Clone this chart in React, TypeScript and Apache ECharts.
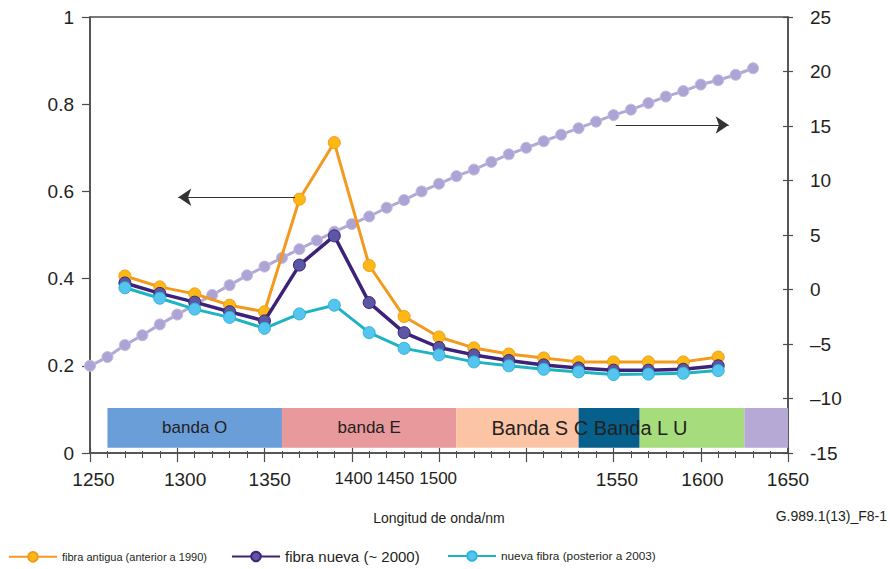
import React, { useEffect, useRef } from "react";
import * as echarts from "echarts";

// ---- data ----
const lossNm = [1270, 1290, 1310, 1330, 1350, 1370, 1390, 1410, 1430, 1450, 1470, 1490, 1510, 1530, 1550, 1570, 1590, 1610];
const oldFiber = [0.406, 0.381, 0.365, 0.339, 0.324, 0.582, 0.712, 0.430, 0.313, 0.266, 0.241, 0.227, 0.218, 0.209, 0.209, 0.209, 0.209, 0.220];
const newFiber = [0.390, 0.366, 0.346, 0.324, 0.303, 0.431, 0.498, 0.345, 0.276, 0.242, 0.225, 0.212, 0.202, 0.195, 0.190, 0.190, 0.192, 0.200];
const newestFiber = [0.379, 0.355, 0.330, 0.311, 0.286, 0.319, 0.339, 0.276, 0.240, 0.225, 0.209, 0.200, 0.192, 0.186, 0.180, 0.181, 0.183, 0.189];

const dispNm = [1250, 1260, 1270, 1280, 1290, 1300, 1310, 1320, 1330, 1340, 1350, 1360, 1370, 1380, 1390, 1400, 1410, 1420, 1430, 1440, 1450, 1460, 1470, 1480, 1490, 1500, 1510, 1520, 1530, 1540, 1550, 1560, 1570, 1580, 1590, 1600, 1610, 1620, 1630];
const dispersion = [-7.0, -6.2, -5.1, -4.2, -3.2, -2.3, -1.4, -0.5, 0.4, 1.3, 2.1, 2.9, 3.7, 4.5, 5.3, 6.0, 6.7, 7.5, 8.2, 9.0, 9.7, 10.4, 11.0, 11.7, 12.4, 13.0, 13.6, 14.2, 14.8, 15.4, 16.0, 16.5, 17.1, 17.7, 18.2, 18.8, 19.2, 19.7, 20.3];

const bandNames = ["banda O", "banda E", "", "", "", ""];
const bandStart = [1260, 1360, 1460, 1530, 1565, 1625];
const bandEnd = [1360, 1460, 1530, 1565, 1625, 1650];
const bandColors = ["#6A9ED8", "#E8999C", "#FBC5A5", "#075F8B", "#A6DC7B", "#B6A9D6"];
const bandLow = 0.012;
const bandHigh = 0.103;
const bandOverlayText = "Banda S C Banda L U";

const xLabelPos = [1252, 1304.5, 1353, 1401, 1425, 1449.5, 1552, 1601, 1650];
const xLabelText = ["1250", "1300", "1350", "1400", "1450", "1500", "1550", "1600", "1650"];
const xLabelSmall = [false, false, false, true, true, true, false, false, false];

const seriesNames = ["fibra antigua (anterior a 1990)", "fibra nueva (~ 2000)", "nueva fibra (posterior a 2003)"];

const FONT = '"Liberation Sans", Arial, sans-serif';
const TXT = "#231F20";
const AX = "#4D4D4D";

export default function App() {
  const ref = useRef<HTMLDivElement>(null);
  useEffect(() => {
    const chart = echarts.init(ref.current!, null, { renderer: "svg" });
    const xLabelMap: Record<string, string> = {};
    xLabelPos.forEach((p, i) => {
      xLabelMap[String(p)] = xLabelSmall[i] ? `{s|${xLabelText[i]}}` : xLabelText[i];
    });

    const bandAreas: any[] = bandStart.map((s, i) => [
      {
        coord: [s, bandHigh],
        itemStyle: { color: bandColors[i], opacity: 1 },
        label: { show: !!bandNames[i], position: "inside", color: TXT, fontSize: 17, fontFamily: FONT },
        name: bandNames[i],
      },
      { coord: [bandEnd[i], bandLow] },
    ]);
    bandAreas.push([
      {
        coord: [bandStart[2], bandHigh],
        itemStyle: { color: "rgba(0,0,0,0)" },
        label: { show: true, position: "insideLeft", offset: [30, 0], color: TXT, fontSize: 20, fontFamily: FONT },
        name: bandOverlayText,
      },
      { coord: [bandEnd[5], bandLow] },
    ]);

    const option: any = {
      animation: false,
      backgroundColor: "#fff",
      textStyle: { fontFamily: FONT, color: TXT },
      grid: {
        left: 90, right: 102, top: 17, bottom: 116,
        show: true, borderColor: AX, borderWidth: 1.5, backgroundColor: "transparent",
        outerBoundsMode: "none",
      },
      legend: [0, 1, 2].map((i) => ({
        data: [seriesNames[i]],
        left: [8, 231, 447][i],
        top: [551, 549, 550][i],
        padding: 0,
        itemWidth: 48,
        itemHeight: 12,
        textStyle: { fontSize: [11, 15, 11.8][i], color: TXT, fontFamily: FONT },
      })),
      xAxis: [
        {
          type: "value", position: "bottom", min: 1250, max: 1650, interval: 50,
          axisLine: { show: true, onZero: false, lineStyle: { color: AX, width: 1.5 } },
          axisTick: { show: true, length: 9, lineStyle: { color: AX, width: 1.2 } },
          minorTick: { show: true, splitNumber: 5, length: 5, lineStyle: { color: AX, width: 1 } },
          axisLabel: { show: false },
          splitLine: { show: false },
          minorSplitLine: { show: false },
        },
        {
          type: "value", position: "bottom", offset: 0, min: 1250, max: 1650, interval: 50,
          axisLine: { show: false, onZero: false },
          axisTick: { show: true, inside: true, length: 5, lineStyle: { color: AX, width: 1.2 } },
          minorTick: { show: true, splitNumber: 5, length: 2, lineStyle: { color: AX, width: 1 } },
          axisLabel: { show: false },
          splitLine: { show: false },
        },
        {
          type: "value", position: "bottom", offset: 0, min: 1250, max: 1650,
          axisLine: { show: false, onZero: false },
          axisTick: { show: false },
          splitLine: { show: false },
          axisLabel: {
            show: true, customValues: xLabelPos, margin: 17, fontSize: 19, color: TXT, fontFamily: FONT,
            formatter: (v: number) => xLabelMap[String(v)] ?? String(v),
            rich: { s: { fontSize: 17, color: TXT, fontFamily: FONT } },
          },
          name: "Longitud de onda/nm",
          nameLocation: "middle",
          nameGap: 58,
          nameTextStyle: { fontSize: 14, color: TXT, fontFamily: FONT },
        },
      ],
      yAxis: [
        {
          type: "value", position: "left", min: 0, max: 1, interval: 0.2,
          axisLine: { show: true, onZero: false, lineStyle: { color: AX, width: 1.5 } },
          axisTick: { show: true, length: 8, lineStyle: { color: AX, width: 1.2 } },
          axisLabel: { fontSize: 19, color: TXT, margin: 16, fontFamily: FONT },
          splitLine: { show: false },
        },
        {
          type: "value", position: "right", offset: 0, min: -15, max: 25, interval: 5,
          axisLine: { show: true, onZero: false, lineStyle: { color: AX, width: 1.5 } },
          axisTick: { show: true, length: 5, lineStyle: { color: AX, width: 1.2 } },
          axisLabel: {
            fontSize: 19, color: TXT, margin: 22, fontFamily: FONT,
            formatter: (v: number) => (v === -15 ? "-15" : v < 0 ? "\u2013" + Math.abs(v) : String(v)),
          },
          splitLine: { show: false },
        },
        {
          type: "value", position: "right", offset: 0, min: -15, max: 25, interval: 5,
          axisLine: { show: false, onZero: false },
          axisTick: { show: true, inside: true, length: 5, lineStyle: { color: AX, width: 1.2 } },
          axisLabel: { show: false },
          splitLine: { show: false },
        },
      ],
      graphic: [
        {
          type: "text", right: 3, top: 509,
          style: { text: "G.989.1(13)_F8-1", fontSize: 14, fill: TXT, fontFamily: FONT },
        },
      ],
      series: [
        {
          name: "dispersion",
          type: "line",
          xAxisIndex: 0,
          yAxisIndex: 1,
          data: dispNm.map((x, i) => [x, dispersion[i]]),
          symbol: "circle",
          symbolSize: 11,
          lineStyle: { color: "#B2A8D8", width: 3 },
          itemStyle: { color: "#ADA3D5", borderColor: "#C3BBE2", borderWidth: 1 },
          silent: true,
          z: 2,
          markLine: {
            silent: true,
            symbol: ["none", "arrow"],
            symbolSize: 13,
            label: { show: false },
            lineStyle: { color: "#333", width: 1.2, type: "solid" },
            data: [[{ coord: [1551.3, 15.09] }, { coord: [1616, 15.09] }]],
          },
        },
        {
          name: seriesNames[0],
          type: "line",
          xAxisIndex: 0,
          yAxisIndex: 0,
          data: lossNm.map((x, i) => [x, oldFiber[i]]),
          symbol: "circle",
          symbolSize: 12,
          lineStyle: { color: "#F39A1E", width: 3 },
          itemStyle: { color: "#FDB913", borderColor: "#F39A1E", borderWidth: 1 },
          silent: true,
          z: 3,
          markArea: { silent: true, data: bandAreas },
          markLine: {
            silent: true,
            symbol: ["none", "arrow"],
            symbolSize: 13,
            label: { show: false },
            lineStyle: { color: "#333", width: 1.2, type: "solid" },
            data: [[{ coord: [1367.5, 0.5865] }, { coord: [1300.6, 0.5865] }]],
          },
        },
        {
          name: seriesNames[1],
          type: "line",
          xAxisIndex: 0,
          yAxisIndex: 0,
          data: lossNm.map((x, i) => [x, newFiber[i]]),
          symbol: "circle",
          symbolSize: 12,
          lineStyle: { color: "#3C2279", width: 3.5 },
          itemStyle: { color: "#5B57A5", borderColor: "#3C2279", borderWidth: 1 },
          silent: true,
          z: 4,
        },
        {
          name: seriesNames[2],
          type: "line",
          xAxisIndex: 0,
          yAxisIndex: 0,
          data: lossNm.map((x, i) => [x, newestFiber[i]]),
          symbol: "circle",
          symbolSize: 12,
          lineStyle: { color: "#1DB3C4", width: 3 },
          itemStyle: { color: "#55C4EE", borderColor: "#2FB5D5", borderWidth: 1 },
          silent: true,
          z: 5,
        },
      ],
    };
    chart.setOption(option);
    return () => chart.dispose();
  }, []);
  return (
    <div
      ref={ref}
      style={{ position: "fixed", left: 0, top: 0, width: 890, height: 569, background: "#fff" }}
    />
  );
}
